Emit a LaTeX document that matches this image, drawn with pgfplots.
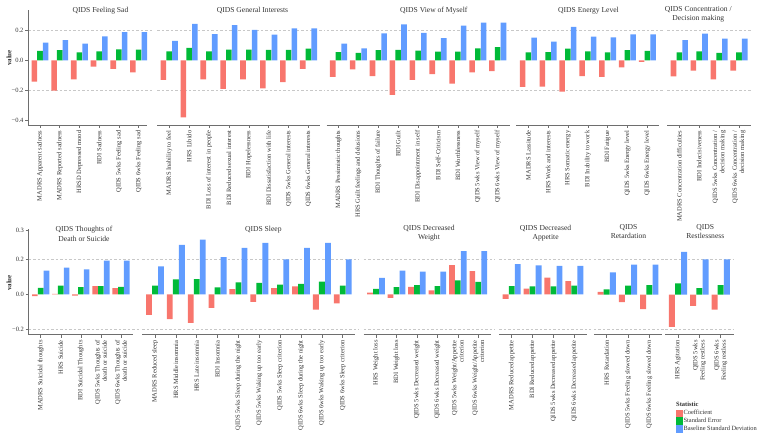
\documentclass[border=0pt]{standalone}
\usepackage{fontspec}
\setmainfont{Liberation Serif}
\usepackage{pgfplots}
\pgfplotsset{compat=1.18}
\usepackage{pgfplotstable}

\definecolor{cR}{HTML}{F8766D}
\definecolor{cG}{HTML}{00BA38}
\definecolor{cB}{HTML}{619CFF}
\definecolor{axg}{HTML}{6E6E6E}
\definecolor{txg}{HTML}{333333}
\definecolor{grd}{HTML}{C8C8C8}

\newcommand{\tickfont}{\fontsize{6.5}{7.3}\selectfont}
\newcommand{\titlefont}{\fontsize{7.6}{9.4}\selectfont}

\pgfplotsset{
 base/.style={anchor=origin, xmin=-0.6, clip=false,
   axis line style={draw=none},
   xtick pos=left, ytick pos=left,
   tick style={draw=axg, line width=0.5pt},
   major tick length=3pt, tick align=outside,
   xticklabel style={rotate=90, anchor=east, align=right, font=\tickfont, text=txg, inner sep=2.5pt},
   yticklabel style={font=\tickfont, text=txg, inner sep=1.5pt}},
 toprow/.style={y=150pt, ymin=-0.431, ymax=0.335},
 botrow/.style={y=175pt, ymin=-0.23, ymax=0.374},
 topy/.style={ytick={-0.4,-0.2,0,0.2}, yticklabels={−0.4,−0.2,0.0,0.2}},
 boty/.style={ytick={-0.2,0,0.2,0.366}, yticklabels={−0.2,0.0,0.2,0.3}},
 noy/.style={ytick=\empty},
 barR/.style={ybar, bar width=0.28, bar shift=-0.29, fill=cR, draw=none,
   legend image code/.code={\fill[cR] (0pt,-3.85pt) rectangle (6.7pt,3.85pt);}},
 barG/.style={ybar, bar width=0.28, bar shift=0, fill=cG, draw=none,
   legend image code/.code={\fill[cG] (0pt,-3.85pt) rectangle (6.7pt,3.85pt);}},
 barB/.style={ybar, bar width=0.28, bar shift=0.29, fill=cB, draw=none,
   legend image code/.code={\fill[cB] (0pt,-3.85pt) rectangle (6.7pt,3.85pt);}},
 gl/.style={forget plot, grd, dash pattern=on 2.5pt off 2pt, line width=0.45pt},
}

% ---------------- data ----------------
\pgfplotstableread{
coef se sd
-0.143 0.062 0.117
-0.203 0.067 0.135
-0.127 0.053 0.111
-0.043 0.060 0.160
-0.058 0.073 0.187
-0.080 0.071 0.187
}\tA
\pgfplotstableread{
coef se sd
-0.131 0.060 0.129
-0.380 0.082 0.242
-0.127 0.060 0.175
-0.191 0.071 0.235
-0.127 0.071 0.202
-0.187 0.069 0.171
-0.145 0.069 0.213
-0.058 0.078 0.213
}\tB
\pgfplotstableread{
coef se sd
-0.111 0.055 0.111
-0.060 0.049 0.080
-0.105 0.067 0.180
-0.231 0.069 0.240
-0.131 0.064 0.182
-0.093 0.058 0.147
-0.156 0.058 0.231
-0.080 0.080 0.251
-0.073 0.087 0.251
}\tC
\pgfplotstableread{
coef se sd
-0.178 0.053 0.151
-0.176 0.055 0.124
-0.209 0.078 0.222
-0.105 0.060 0.157
-0.111 0.053 0.153
-0.047 0.067 0.173
-0.011 0.062 0.173
}\tD
\pgfplotstableread{
coef se sd
-0.107 0.053 0.135
-0.069 0.060 0.178
-0.127 0.049 0.144
-0.069 0.053 0.144
}\tE
\pgfplotstableread{
coef se sd
-0.010 0.038 0.137
0.004 0.050 0.154
-0.006 0.042 0.143
0.048 0.048 0.194
0.036 0.044 0.194
}\tF
\pgfplotstableread{
coef se sd
-0.116 0.051 0.160
-0.141 0.086 0.284
-0.162 0.088 0.314
-0.076 0.040 0.213
0.030 0.069 0.267
-0.042 0.067 0.295
0.036 0.057 0.200
0.046 0.061 0.267
-0.086 0.074 0.295
-0.051 0.051 0.200
}\tG
\pgfplotstableread{
coef se sd
0.010 0.032 0.095
-0.019 0.042 0.137
0.044 0.053 0.131
0.023 0.048 0.131
0.168 0.080 0.248
0.133 0.072 0.248
}\tH
\pgfplotstableread{
coef se sd
-0.025 0.048 0.173
0.034 0.046 0.166
0.097 0.046 0.164
0.076 0.050 0.164
}\tI
\pgfplotstableread{
coef se sd
0.015 0.030 0.126
-0.044 0.051 0.171
-0.084 0.053 0.171
}\tJ
\pgfplotstableread{
coef se sd
-0.185 0.063 0.244
-0.065 0.036 0.200
-0.086 0.053 0.200
}\tK

\newcommand{\bars}[1]{%
 \addplot[barR] table[x expr=\coordindex, y=coef] {#1};
 \addplot[barG] table[x expr=\coordindex, y=se] {#1};
 \addplot[barB] table[x expr=\coordindex, y=sd] {#1};
}
\newcommand{\xline}{\draw[axg, line width=0.6pt] (rel axis cs:0,0) -- (rel axis cs:1,0);}
\newcommand{\yline}{\draw[axg, line width=0.6pt] (rel axis cs:0,0) -- (rel axis cs:0,1);}

\begin{document}
\begin{tikzpicture}
\useasboundingbox (0pt,0pt) rectangle (761pt,-438pt);

% ================= TOP ROW =================
\begin{axis}[base, toprow, topy, at={(40pt,-60.3pt)}, x=19.74pt, xmax=5.4,
  xtick={0,...,5},
  xticklabels={MADRS Apparent sadness, MADRS Reported sadness, HRSD Depressed mood, BDI Sadness, QIDS 5wks Feeling sad, QIDS 6wks Feeling sad}]
 \addplot[gl] coordinates {(-0.6,0.2) (5.75,0.2)};
 \addplot[gl] coordinates {(-0.6,-0.2) (5.75,-0.2)};
 \bars{\tA}
 \xline \yline
\end{axis}

\begin{axis}[base, toprow, noy, at={(169.2pt,-60.3pt)}, x=19.9pt, xmax=7.6,
  xtick={0,...,7},
  xticklabels={MADRS Inability to feel, HRS Libido, BDI Loss of interest in people, BDI Reduced sexual interest, BDI Hopelessness, BDI Dissatisfaction with life, QIDS 5wks General interests, QIDS 6wks General interests}]
 \addplot[gl] coordinates {(-0.6,0.2) (7.8,0.2)};
 \addplot[gl] coordinates {(-0.6,-0.2) (7.8,-0.2)};
 \bars{\tB}
 \xline
\end{axis}

\begin{axis}[base, toprow, noy, at={(338.5pt,-60.3pt)}, x=19.9pt, xmax=8.6,
  xtick={0,...,8},
  xticklabels={MADRS Pessimistic thoughts, HRS Guilt feelings and delusions, BDI Thoughts of failure, BDI Guilt, BDI Disappointment in self, BDI Self-Criticism, BDI Worthlessness, QIDS 5wks View of myself, QIDS 6wks View of myself}]
 \addplot[gl] coordinates {(-0.6,0.2) (8.8,0.2)};
 \addplot[gl] coordinates {(-0.6,-0.2) (8.8,-0.2)};
 \bars{\tC}
 \xline
\end{axis}

\begin{axis}[base, toprow, noy, at={(528.3pt,-60.3pt)}, x=19.83pt, xmax=6.6,
  xtick={0,...,6},
  xticklabels={MADRS Lassitude, HRS Work and interests, HRS Somatic energy, BDI Inability to work, BDI Fatigue, QIDS 5wks Energy level, QIDS 6wks Energy level}]
 \addplot[gl] coordinates {(-0.6,0.2) (6.8,0.2)};
 \addplot[gl] coordinates {(-0.6,-0.2) (6.8,-0.2)};
 \bars{\tD}
 \xline
\end{axis}

\begin{axis}[base, toprow, noy, at={(679.3pt,-60.3pt)}, x=19.9pt, xmax=3.6,
  xtick={0,...,3},
  xticklabels={MADRS Concentration difficulties, BDI Indecisiveness, {QIDS 5wks Concentration /\\decision making}, {QIDS 6wks Concentration /\\decision making}}]
 \addplot[gl] coordinates {(-0.6,0.2) (3.6,0.2)};
 \addplot[gl] coordinates {(-0.6,-0.2) (3.6,-0.2)};
 \bars{\tE}
 \xline
\end{axis}

% ================= BOTTOM ROW =================
\begin{axis}[base, botrow, boty, at={(40.7pt,-294.5pt)}, x=20.07pt, xmax=4.6,
  xtick={0,...,4},
  xticklabels={MADRS Suicidal thoughts, HRS Suicide, BDI Suicidal Thoughts, {QIDS 5wks Thoughts of\\death or suicide}, {QIDS 6wks Thoughts of\\death or suicide}}]
 \addplot[gl] coordinates {(-0.6,0.2) (4.95,0.2)};
 \addplot[gl] coordinates {(-0.6,-0.2) (4.95,-0.2)};
 \bars{\tF}
 \xline \yline
\end{axis}

\begin{axis}[base, botrow, noy, at={(155pt,-294.5pt)}, x=20.86pt, xmax=9.6,
  xtick={0,...,9},
  xticklabels={MADRS Reduced sleep, HRS Middle insomnia, HRS Late insomnia, BDI Insomnia, QIDS 5wks Sleep during the night, QIDS 5wks Waking up too early, QIDS 5wks Sleep criterion, QIDS 6wks Sleep during the night, QIDS 6wks Waking up too early, QIDS 6wks Sleep criterion}]
 \addplot[gl] coordinates {(-0.6,0.2) (9.8,0.2)};
 \addplot[gl] coordinates {(-0.6,-0.2) (9.8,-0.2)};
 \bars{\tG}
 \xline
\end{axis}

\begin{axis}[base, botrow, noy, at={(376pt,-294.5pt)}, x=20.46pt, xmax=5.6,
  xtick={0,...,5},
  xticklabels={HRS Weight loss, BDI Weight loss, QIDS 5wks Decreased weight, QIDS 6wks Decreased weight, {QIDS 5wks Weight/Appetite\\criterion}, {QIDS 6wks Weight/Appetite\\criterion}}]
 \addplot[gl] coordinates {(-0.6,0.2) (5.8,0.2)};
 \addplot[gl] coordinates {(-0.6,-0.2) (5.8,-0.2)};
 \bars{\tH}
 \xline
\end{axis}

\begin{axis}[base, botrow, noy, at={(511.7pt,-294.5pt)}, x=20.87pt, xmax=3.6,
  xtick={0,...,3},
  xticklabels={MADRS Reduced appetite, BDI Reduced appetite, QIDS 5wks Decreased appetite, QIDS 6wks Decreased appetite}]
 \addplot[gl] coordinates {(-0.6,0.2) (3.8,0.2)};
 \addplot[gl] coordinates {(-0.6,-0.2) (3.8,-0.2)};
 \bars{\tI}
 \xline
\end{axis}

\begin{axis}[base, botrow, noy, at={(606.7pt,-294.5pt)}, x=21.3pt, xmax=2.6,
  xtick={0,...,2},
  xticklabels={HRS Retardation, QIDS 5wks Feeling slowed down, QIDS 6wks Feeling slowed down}]
 \addplot[gl] coordinates {(-0.6,0.2) (2.8,0.2)};
 \addplot[gl] coordinates {(-0.6,-0.2) (2.8,-0.2)};
 \bars{\tJ}
 \xline
\end{axis}

\begin{axis}[base, botrow, noy, at={(678pt,-294.5pt)}, x=21.35pt, xmax=2.6,
  xtick={0,...,2},
  xticklabels={HRS Agitation, {QIDS 5wks\\Feeling restless}, {QIDS 6wks\\Feeling restless}},
  legend cell align=left,
  legend style={at={(0.158,-0.707)}, anchor=north west, draw=none, fill=none,
    inner sep=0pt, outer sep=0pt, row sep=0pt,
    font=\fontsize{6.4}{7}\selectfont, text=txg,
    cells={anchor=west}, nodes={inner sep=0.9pt}}]
 \addplot[gl] coordinates {(-0.6,0.2) (2.6,0.2)};
 \addplot[gl] coordinates {(-0.6,-0.2) (2.6,-0.2)};
 \addplot[barR] table[x expr=\coordindex, y=coef] {\tK};
 \addlegendentry{Coefficient}
 \addplot[barG] table[x expr=\coordindex, y=se] {\tK};
 \addlegendentry{Standard Error}
 \addplot[barB] table[x expr=\coordindex, y=sd] {\tK};
 \addlegendentry{Baseline Standard Deviation}
 \xline
\end{axis}

% ---------------- titles ----------------
\begin{scope}[every node/.style={font=\titlefont, text=txg, align=center}]
\node at (100.5pt,-10.7pt) {QIDS Feeling Sad};
\node at (252.5pt,-10.7pt) {QIDS General Interests};
\node at (433.8pt,-10.7pt) {QIDS View of Myself};
\node at (588.5pt,-10.7pt) {QIDS Energy Level};
\node at (698.3pt,-14.4pt) {QIDS Concentration /\\Decision making};
\node at (84pt,-234pt) {QIDS Thoughts of\\Death or Suicide};
\node at (263.3pt,-230pt) {QIDS Sleep};
\node at (429pt,-233pt) {QIDS Decreased\\Weight};
\node at (545.6pt,-233.3pt) {QIDS Decreased\\Appetite};
\node at (628.5pt,-231.4pt) {QIDS\\Retardation};
\node at (705.3pt,-231.4pt) {QIDS\\Restlessness};
\end{scope}

% ---------------- axis labels / legend title ----------------
\node[rotate=90, font=\fontsize{7}{8}\selectfont\bfseries, text=txg] at (9pt,-58pt) {value};
\node[rotate=90, font=\fontsize{7}{8}\selectfont\bfseries, text=txg] at (9pt,-283pt) {value};
\node[anchor=west, inner sep=0pt, font=\fontsize{6.5}{7}\selectfont\bfseries, text=txg] at (676pt,-404.3pt) {Statistic};

\end{tikzpicture}
\end{document}
